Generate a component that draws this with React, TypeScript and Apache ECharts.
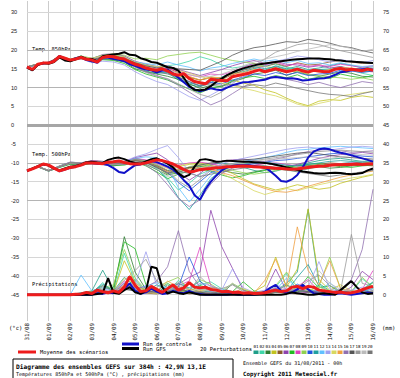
import React, { useEffect, useRef } from "react";
import * as echarts from "echarts";

// ---------- axis categories / ticks ----------
const DATES = ["31/08","01/09","02/09","03/09","04/09","05/09","06/09","07/09","08/09","09/09","10/09","11/09","12/09","13/09","14/09","15/09","16/09"];
const LEFT_TICKS = [30,25,20,15,10,5,0,-5,-10,-15,-20,-25,-30,-35,-40,-45];
const RIGHT_TICKS = [75,70,65,60,55,50,45,40,35,30,25,20,15,10,5,0];
const STRONG_GRID = [20,10,-10,-20];
const MAIN_STEP_H = 6;   // mean / control / GFS every 6h
const PERT_STEP_H = 12;  // perturbations every 12h

// ---------- 850 hPa (°C) ----------
const MEAN_850 = [
  15.5,14.8,16.2,16.5,16.5,17.0,18.3,17.8,17.3,17.6,18.0,17.5,17.3,
  16.8,18.0,18.3,18.2,17.8,17.6,16.8,16.2,15.8,15.2,14.8,14.6,15.0,
  14.4,13.6,13.3,13.7,12.4,11.6,11.3,11.0,12.2,12.0,11.9,11.8,12.9,
  13.2,13.5,13.8,14.3,14.7,14.2,14.6,15.0,14.6,14.2,14.5,14.9,14.4,
  14.1,14.6,14.4,14.2,14.3,14.9,15.1,14.7,14.9,14.7,14.5,14.9,14.6];
const GFS_850 = [
  15.3,14.6,16.0,16.6,16.3,16.8,18.0,17.2,17.0,17.5,18.2,17.6,17.6,
  17.0,18.3,18.6,18.8,19.0,19.4,18.7,18.6,17.8,17.4,16.8,16.6,16.0,
  15.4,15.2,14.5,12.6,10.5,9.4,9.3,9.5,10.4,11.5,12.4,13.3,14.0,
  14.6,15.1,15.5,15.9,16.2,16.4,16.6,16.8,17.0,17.2,17.4,17.5,17.6,
  17.7,17.7,17.7,17.6,17.5,17.3,17.2,17.0,16.9,16.8,16.7,16.6,16.5];
const CTRL_850 = [
  15.4,14.7,16.1,16.4,16.6,17.1,18.4,17.6,17.2,17.8,18.1,17.3,17.0,
  16.6,18.0,18.0,17.6,17.4,17.0,16.2,15.8,15.2,14.8,14.6,14.0,14.6,
  14.8,13.8,12.6,11.4,10.2,9.5,9.0,9.4,9.8,9.5,9.3,10.0,10.6,
  11.0,11.4,11.5,11.7,11.9,12.1,12.6,12.8,12.6,12.4,12.5,12.3,11.9,
  12.0,12.2,12.4,12.5,12.8,13.4,14.1,14.3,14.6,14.8,14.9,15.0,14.8];
const PERT_850 = [
  [15.5,16.0,16.8,18.0,17.5,18.4,17.0,18.2,17.6,17.0,15.6,14.4,13.8,14.0,12.0,10.8,10.2,11.4,12.6,13.8,14.2,15.1,14.6,15.8,15.0,15.6,14.8,15.2,15.8,16.4,15.9,15.2,15.5],
  [15.5,16.3,16.4,18.5,17.2,17.6,17.8,18.6,18.8,18.0,16.8,16.0,15.4,15.8,16.2,17.0,18.2,17.4,16.0,15.2,15.6,16.4,15.8,16.2,15.4,15.0,14.2,14.8,15.0,15.6,14.6,13.8,13.2],
  [15.5,16.1,16.6,18.2,17.0,17.8,16.8,17.6,17.4,16.8,15.0,14.2,13.6,13.0,12.2,11.0,9.8,10.6,10.2,11.6,12.4,13.6,14.0,14.6,13.2,14.2,13.4,13.0,13.6,14.2,13.8,13.0,12.8],
  [15.5,16.2,16.4,18.4,17.6,18.2,17.6,18.4,18.6,18.2,16.4,15.6,15.0,14.8,13.0,12.6,12.0,12.8,12.4,12.0,11.2,10.6,9.4,8.6,7.2,6.0,5.2,6.4,6.8,6.6,7.4,7.8,7.4],
  [15.5,16.3,16.7,18.2,17.4,18.1,17.5,18.0,18.6,17.8,16.6,15.4,14.8,15.2,14.0,12.8,12.0,12.6,12.2,13.4,14.6,15.4,15.6,16.4,15.6,16.6,16.0,16.2,16.8,17.2,16.8,16.4,16.6],
  [15.5,16.2,16.5,18.3,17.2,17.9,17.6,18.8,19.0,18.4,17.0,16.2,15.6,15.8,14.8,14.0,13.2,14.0,14.8,15.8,16.6,17.2,16.4,17.0,16.2,16.0,15.4,15.8,15.2,15.6,15.0,14.4,14.2],
  [15.5,16.1,16.4,18.4,17.3,18.0,16.8,17.4,17.2,16.4,14.8,13.6,12.8,12.0,10.8,9.6,8.6,9.8,10.4,11.8,12.6,13.0,12.4,13.2,12.6,13.4,12.2,12.8,12.4,13.6,13.0,12.6,13.2],
  [15.5,16.2,16.6,18.2,17.4,18.2,17.8,18.4,18.0,17.6,16.4,15.6,15.2,15.0,14.4,13.4,12.8,13.6,13.4,14.2,15.4,16.4,16.0,16.8,15.8,16.4,15.6,16.0,15.6,16.2,15.8,15.4,15.8],
  [15.5,16.3,16.5,18.5,17.4,18.4,17.8,18.6,19.0,18.6,17.6,17.8,17.4,18.4,18.8,19.2,19.4,18.6,17.8,17.2,16.8,16.4,15.6,15.2,14.6,14.2,13.6,13.2,12.8,12.6,12.2,12.6,12.0],
  [15.5,16.1,16.6,18.2,17.1,17.8,17.0,17.6,17.8,17.4,15.8,14.8,14.4,14.2,12.8,11.6,10.4,11.4,11.0,12.0,12.8,13.6,13.2,14.0,13.4,14.0,13.2,13.6,13.8,14.6,14.4,14.0,14.4],
  [15.5,16.2,16.4,18.3,17.3,18.0,17.4,17.8,17.8,17.2,16.0,15.0,14.2,13.8,12.4,11.2,10.6,11.8,12.8,14.0,14.8,15.6,15.0,15.6,14.8,15.2,14.4,14.8,14.6,15.4,14.8,14.2,14.6],
  [15.5,16.2,16.6,18.2,17.3,18.0,17.2,18.0,18.4,18.0,16.8,16.4,16.0,16.8,16.0,15.4,14.4,15.2,15.6,16.4,17.0,17.6,17.0,17.4,16.6,17.2,16.4,16.6,16.0,16.6,16.0,15.6,15.8],
  [15.5,16.1,16.4,18.4,17.2,17.7,16.6,17.0,16.8,16.0,14.2,12.8,11.6,10.8,9.2,7.6,6.6,8.0,9.6,11.4,12.8,14.2,15.6,17.0,17.6,18.4,18.0,17.4,16.8,17.4,17.0,16.6,17.2],
  [15.5,16.2,16.5,18.3,17.4,18.1,17.7,18.5,18.6,18.0,16.8,16.0,15.6,15.6,14.6,13.8,13.0,12.2,11.2,10.6,9.8,9.2,8.4,7.8,6.8,5.6,5.0,5.8,6.4,7.8,8.2,8.6,9.0],
  [15.5,16.3,16.6,18.2,17.3,18.0,17.4,18.2,18.4,17.8,16.4,15.6,15.0,14.8,13.8,13.0,12.0,12.8,12.6,13.6,14.0,14.8,14.4,15.2,14.6,15.0,14.4,14.2,14.8,15.4,15.2,14.8,14.6],
  [15.5,16.2,16.5,18.3,17.2,17.8,17.2,17.8,18.0,17.2,15.6,14.2,13.2,12.2,10.6,8.8,7.0,5.4,6.6,8.4,10.2,11.6,12.4,13.0,12.2,11.6,10.8,11.4,10.6,10.0,10.8,11.6,11.2],
  [15.5,16.2,16.5,18.4,17.3,18.1,17.4,18.2,18.4,17.8,16.6,15.8,15.2,15.6,15.0,14.8,14.6,15.8,17.0,18.6,19.8,20.6,21.0,21.6,22.2,22.0,22.8,22.4,21.8,21.0,20.6,19.8,19.2],
  [15.5,16.2,16.4,18.2,17.4,18.0,17.2,17.8,17.6,17.0,15.4,14.0,13.0,12.4,11.0,9.6,8.2,7.4,8.8,11.0,13.4,15.8,17.6,19.4,20.4,21.4,21.8,21.4,20.6,19.8,19.2,18.6,18.0],
  [15.5,16.2,16.5,18.3,17.3,17.9,17.6,18.4,18.2,17.8,16.2,15.4,15.0,14.6,13.8,13.4,12.8,13.0,13.6,14.6,15.8,16.8,17.6,18.2,18.8,19.6,20.2,20.8,21.4,21.0,20.4,19.6,20.2],
  [15.5,16.2,16.6,18.3,17.2,18.0,17.4,18.0,18.4,17.4,16.0,15.0,14.2,13.6,12.8,11.6,10.4,11.0,10.6,10.8,10.2,10.8,10.4,11.2,10.6,9.8,9.2,8.6,8.2,8.0,7.6,8.4,9.0]];

// ---------- 500 hPa (°C) ----------
const MEAN_500 = [
  -12.1,-11.6,-11.0,-10.3,-10.6,-11.4,-12.1,-11.7,-11.2,-11.0,-10.6,-10.0,-10.0,
  -10.1,-10.2,-9.8,-9.7,-9.5,-9.9,-10.2,-10.3,-10.3,-10.0,-9.6,-9.2,-9.4,
  -9.8,-10.3,-11.0,-11.8,-12.4,-12.2,-11.8,-11.6,-11.5,-11.3,-11.2,-11.0,-11.0,
  -10.9,-10.8,-10.9,-11.0,-11.1,-11.2,-11.3,-11.4,-11.5,-11.6,-11.7,-11.6,-11.4,
  -11.2,-11.0,-10.9,-10.8,-10.6,-10.5,-10.5,-10.4,-10.4,-10.3,-10.4,-10.3,-10.3];
const GFS_500 = [
  -12.1,-11.5,-10.9,-10.3,-10.7,-11.5,-12.0,-11.5,-11.0,-10.8,-10.4,-9.8,-9.7,
  -9.9,-10.0,-9.2,-8.8,-8.6,-9.0,-9.6,-10.0,-10.2,-9.6,-9.0,-8.8,-9.4,
  -10.2,-11.2,-12.8,-13.8,-13.2,-11.0,-9.2,-9.0,-9.3,-9.7,-9.6,-9.4,-9.5,
  -9.6,-9.7,-9.7,-9.8,-9.9,-10.0,-10.2,-10.5,-10.8,-11.2,-11.5,-11.9,-12.3,
  -12.5,-12.7,-12.8,-12.8,-12.7,-12.6,-12.7,-12.9,-13.0,-12.9,-12.7,-12.0,-11.5];
const CTRL_500 = [
  -12.1,-11.6,-11.0,-10.4,-10.6,-11.4,-12.2,-11.8,-11.3,-11.0,-10.6,-10.0,-10.1,
  -10.2,-10.3,-10.6,-11.4,-12.4,-12.7,-11.6,-10.6,-10.4,-10.0,-9.6,-9.8,-10.4,
  -11.0,-11.8,-13.0,-14.6,-16.0,-18.6,-19.8,-17.0,-15.0,-13.4,-12.0,-11.2,-10.8,
  -10.6,-10.6,-10.6,-10.8,-11.0,-11.2,-12.2,-13.4,-14.8,-15.0,-14.4,-13.2,-11.2,
  -8.6,-7.0,-6.4,-6.2,-6.4,-6.9,-7.3,-7.6,-8.0,-8.4,-8.8,-9.2,-9.7];
const PERT_500 = [
  [-12.1,-11.0,-12.0,-10.8,-9.8,-10.0,-9.4,-9.6,-10.0,-9.6,-8.8,-9.4,-10.6,-12.0,-12.8,-12.2,-11.0,-10.4,-10.0,-10.6,-11.2,-12.0,-12.6,-12.2,-11.4,-10.6,-10.0,-9.4,-9.0,-8.8,-9.2,-9.6,-9.8],
  [-12.1,-11.1,-12.2,-11.2,-10.2,-10.4,-9.8,-10.2,-10.6,-10.4,-9.6,-10.2,-11.6,-14.0,-17.2,-15.4,-13.0,-11.8,-11.0,-10.4,-10.0,-10.2,-10.8,-11.4,-12.0,-12.2,-11.6,-11.0,-10.6,-10.2,-9.8,-9.6,-9.4],
  [-12.1,-11.0,-12.1,-11.1,-10.2,-10.6,-10.2,-10.4,-10.8,-10.4,-9.6,-10.4,-11.8,-13.2,-12.6,-11.4,-10.8,-11.2,-12.0,-12.6,-13.0,-12.4,-11.8,-11.2,-10.8,-10.6,-10.8,-11.0,-11.4,-11.2,-10.8,-10.6,-10.4],
  [-12.1,-11.0,-12.0,-11.0,-9.9,-10.0,-9.6,-9.8,-10.2,-9.8,-9.0,-9.6,-10.8,-12.0,-11.0,-10.4,-10.0,-10.6,-11.6,-12.8,-14.2,-15.6,-16.4,-17.2,-16.6,-15.8,-16.4,-17.0,-16.6,-15.4,-14.6,-13.8,-13.2],
  [-12.1,-10.9,-12.0,-10.9,-10.0,-10.2,-9.6,-9.8,-10.4,-10.2,-9.4,-9.8,-10.8,-12.2,-11.6,-11.2,-11.6,-11.0,-10.6,-10.4,-10.6,-11.0,-11.4,-11.8,-11.6,-11.2,-10.8,-10.4,-10.0,-10.2,-10.4,-10.6,-10.8],
  [-12.1,-11.0,-12.1,-10.9,-9.9,-10.1,-9.5,-9.7,-10.2,-9.8,-8.6,-8.0,-7.4,-9.2,-12.4,-14.6,-12.8,-10.6,-9.6,-9.2,-9.0,-9.4,-10.0,-10.6,-11.0,-10.4,-9.6,-8.8,-8.2,-7.8,-7.6,-7.2,-7.6],
  [-12.1,-11.0,-12.2,-11.2,-10.4,-10.6,-10.0,-10.2,-10.6,-10.6,-9.8,-10.8,-12.4,-14.2,-13.0,-12.2,-11.6,-12.2,-13.2,-14.0,-13.4,-12.6,-12.0,-11.4,-11.0,-10.8,-10.4,-10.2,-10.6,-11.0,-11.2,-10.8,-10.6],
  [-12.1,-11.0,-12.0,-10.9,-9.8,-10.0,-9.4,-9.6,-10.0,-9.6,-8.8,-9.2,-10.2,-11.4,-10.6,-10.0,-9.8,-10.2,-10.8,-11.2,-11.0,-10.6,-10.2,-10.0,-10.4,-10.8,-11.2,-11.0,-10.6,-10.2,-10.0,-9.8,-10.0],
  [-12.1,-11.1,-12.1,-11.0,-10.1,-10.3,-9.8,-10.0,-10.4,-10.0,-9.2,-9.8,-11.2,-13.0,-12.4,-11.0,-10.4,-10.8,-11.4,-12.0,-12.6,-13.0,-12.6,-12.0,-11.6,-11.2,-11.0,-10.8,-10.6,-10.4,-10.2,-10.0,-9.8],
  [-12.1,-11.0,-12.1,-11.0,-10.0,-10.2,-9.7,-9.9,-10.3,-10.0,-9.2,-9.8,-11.0,-12.6,-15.2,-17.4,-15.0,-12.6,-11.6,-11.0,-10.6,-10.2,-9.8,-9.4,-9.2,-8.8,-8.4,-8.0,-7.6,-7.4,-7.8,-8.2,-8.4],
  [-12.1,-11.0,-12.1,-11.0,-10.1,-10.3,-9.8,-10.0,-10.3,-9.8,-9.0,-9.6,-11.4,-14.6,-19.2,-22.4,-18.6,-14.2,-12.0,-11.0,-10.4,-10.0,-9.8,-10.2,-10.6,-10.8,-10.4,-10.0,-9.6,-9.4,-9.6,-10.0,-10.2],
  [-12.1,-11.0,-12.0,-10.9,-9.9,-10.1,-9.6,-9.8,-10.2,-9.8,-8.8,-8.4,-8.6,-10.8,-16.6,-20.4,-17.0,-13.4,-11.2,-10.2,-9.6,-9.2,-8.6,-8.0,-7.2,-6.6,-6.4,-6.0,-5.8,-5.6,-5.8,-6.0,-6.2],
  [-12.1,-11.0,-12.1,-11.0,-10.0,-10.2,-9.6,-9.8,-10.2,-9.6,-8.4,-7.6,-6.4,-5.4,-8.6,-12.4,-13.8,-11.8,-10.2,-9.4,-8.8,-8.2,-7.6,-7.0,-6.4,-6.0,-5.8,-6.2,-6.6,-6.2,-5.8,-5.6,-5.8],
  [-12.1,-11.0,-12.1,-11.0,-10.0,-10.2,-9.8,-10.0,-10.4,-10.0,-9.2,-9.6,-10.4,-11.4,-10.8,-10.2,-10.6,-11.4,-12.8,-14.2,-15.8,-17.4,-18.4,-17.6,-16.8,-17.4,-16.6,-15.8,-15.2,-14.6,-14.0,-13.6,-13.0],
  [-12.1,-11.0,-12.1,-11.0,-10.0,-10.2,-9.7,-9.9,-10.3,-10.0,-9.2,-9.8,-11.0,-12.4,-11.8,-11.6,-11.2,-11.8,-12.6,-13.4,-14.6,-15.8,-16.8,-17.6,-17.8,-17.2,-16.2,-15.4,-14.6,-13.8,-13.2,-12.6,-12.2],
  [-12.1,-11.0,-12.2,-11.1,-10.2,-10.4,-9.9,-10.1,-10.5,-10.4,-9.8,-10.6,-12.6,-15.8,-19.4,-21.6,-19.8,-15.6,-12.8,-11.4,-10.6,-10.0,-9.6,-9.0,-8.4,-7.6,-7.0,-6.6,-6.4,-6.8,-7.2,-7.0,-6.8],
  [-12.1,-11.0,-12.1,-11.0,-10.0,-10.2,-9.7,-9.9,-10.3,-10.0,-9.4,-10.0,-11.2,-12.8,-12.0,-11.2,-10.6,-10.0,-9.6,-9.4,-9.2,-9.0,-8.6,-8.2,-7.8,-7.4,-7.2,-7.6,-8.0,-8.4,-8.6,-8.8,-9.0],
  [-12.1,-11.0,-12.0,-10.9,-9.9,-10.0,-9.5,-9.7,-10.1,-9.8,-9.0,-9.4,-10.4,-12.0,-14.8,-16.6,-14.4,-12.0,-10.8,-10.2,-9.8,-9.4,-9.0,-8.6,-8.2,-7.8,-7.4,-7.0,-6.8,-6.6,-6.8,-7.0,-7.2],
  [-12.1,-11.0,-12.1,-11.0,-10.1,-10.3,-9.8,-10.0,-10.4,-10.2,-9.6,-10.2,-11.6,-13.6,-13.0,-12.0,-11.4,-11.0,-10.8,-10.4,-10.0,-9.6,-9.2,-9.0,-8.8,-8.6,-8.4,-8.6,-8.8,-8.4,-8.0,-7.8,-8.0],
  [-12.1,-11.0,-12.1,-11.0,-10.0,-10.2,-9.7,-9.9,-10.3,-10.0,-9.2,-9.8,-11.0,-12.6,-12.2,-12.8,-13.6,-13.0,-12.4,-11.8,-11.4,-11.0,-10.8,-11.2,-11.8,-12.4,-12.8,-13.2,-13.6,-13.2,-12.8,-12.4,-12.0]];

// ---------- precipitation (mm, right axis) ----------
const MEAN_PR = [
  0,0,0,0,0,0,0,0,0,0.1,0.2,0.6,0.3,
  1.2,0.8,0.5,1.0,0.6,2.0,4.8,2.5,0.8,1.0,2.2,1.4,0.6,
  1.6,2.6,1.2,1.8,3.2,2.0,1.8,2.0,1.4,1.2,0.8,0.9,0.6,
  0.7,0.4,0.5,0.3,0.4,0.5,0.9,1.2,0.8,1.0,2.0,2.2,1.6,
  2.2,2.0,1.2,1.0,0.8,0.6,0.7,0.4,0.5,0.8,1.3,1.8,2.2];
const GFS_PR = [
  0,0,0,0,0,0,0,0,0,0,0,0,0,
  0.2,0.4,4.4,0.5,0.2,1.2,2.0,0.6,0.2,1.0,7.4,7.0,2.0,
  0.3,0.8,0.4,0.2,0.6,0.3,0,0,0,0,0,0,0,
  0,0,0,0,0,0,0,0,0,0.2,0.6,0.4,0.2,
  0,0,0.2,0.4,0.2,0,1.2,2.4,3.6,2.0,0.6,0.2,0.4];
const CTRL_PR = [
  0,0,0,0,0,0,0,0,0,0,0,0,0,
  0.4,0.2,0.6,0.4,0.8,1.6,3.0,1.0,0.2,0.6,1.6,0.8,0.2,
  0.4,1.0,0.6,0.4,1.0,0.4,0.2,0,0,0,0,0,0.2,
  0,0,0,0,0.2,0.8,1.8,2.6,1.0,0.4,0.6,1.4,2.6,
  1.4,0.4,0.2,0,0,0.2,0.4,0.2,0,0.2,0.4,0.6,0.4];
const PERT_PR = [
  [0,0,0,0,0,0.5,1.0,6.5,1.2,2.0,4.0,1.0,0.4,2.6,1.0,0.6,0.4,1.2,0.8,0.4,0.2,0.6,0.2,1.0,3.0,6.0,22.6,3.0,1.0,0.6,0.4,1.2,0.6],
  [0,0,0,0,0,0.2,0.4,3.2,0.6,11.0,3.4,0.8,1.2,0.6,3.8,1.4,2.6,3.4,1.6,0.8,0.4,0.2,0.4,2.0,5.6,1.0,0.8,2.6,0.8,0.4,0.6,4.2,2.0],
  [0,0,0,0,0,0,0.8,2.4,1.0,15.4,6.0,1.4,0.8,1.6,2.2,0.6,1.4,0.8,0.4,2.8,1.2,0.4,0.2,0.6,1.0,0.8,1.4,0.6,0.4,1.0,0.6,0.8,1.6],
  [0,0,0,0,0,0,0.4,1.2,0.6,9.0,3.2,1.0,0.4,1.8,1.2,0.4,0.8,1.6,0.6,0.2,0.4,0.8,2.4,10.0,2.0,6.8,22.8,4.0,1.2,2.6,1.0,0.4,0.8],
  [0,0,0,0,0,0,0.2,0.8,0.4,2.0,1.0,0.4,0.2,0.6,0.8,0.2,0.4,0.2,0,0.2,0.4,0.2,0,0.6,0.4,0.2,0.6,0.4,0.2,0.6,1.0,0.4,0.2],
  [0,0,0,0,0,0,0.2,1.0,0.6,2.4,1.6,0.8,0.6,1.4,2.8,4.6,6.0,22.4,12.8,7.0,1.2,0.4,0.8,6.8,1.0,0.4,0.6,1.2,0.8,0.4,2.0,6.2,4.0],
  [0,0,0,0,0,0.2,0.6,1.4,2.0,14.0,12.2,2.6,1.0,3.0,1.4,0.8,2.4,1.6,0.6,0.8,3.4,1.0,0.4,0.8,2.6,1.2,4.8,1.8,2.4,0.6,0.4,1.0,3.2],
  [0,0,0,0,0,0,0.4,1.0,0.8,3.6,2.0,0.6,1.2,0.8,2.4,3.6,12.6,2.4,1.0,0.6,0.4,0.2,0.6,1.8,1.2,2.2,4.0,1.0,0.6,0.8,0.4,1.4,6.4],
  [0,0,0,0,0,0,1.0,1.8,2.6,12.0,4.4,1.2,2.0,3.4,4.6,1.2,4.0,2.8,1.0,3.0,1.4,0.6,0.8,2.4,6.0,2.0,1.0,2.2,10.0,1.6,0.8,4.6,2.0],
  [0,0,0,0,0,0,0.2,0.8,0.6,1.8,1.0,2.4,0.8,1.0,2.0,10.0,3.6,1.0,0.4,0.2,0.4,0.6,0.2,1.6,0.8,2.8,1.2,0.6,0.4,0.8,0.6,1.0,0.8],
  [0,0,0,0,0,0.4,0.6,2.8,1.0,4.6,2.2,1.0,2.6,1.4,3.0,1.8,3.6,1.2,0.8,0.6,0.4,0.2,0.6,1.0,0.8,4.6,8.0,2.2,0.6,0.4,0.6,1.4,3.4],
  [0,0,0,0,0,5.2,1.0,2.0,0.8,3.0,1.6,2.2,3.2,1.6,1.0,2.8,1.4,0.8,1.6,0.6,0.4,0.2,0.4,1.2,4.4,1.6,1.2,0.8,3.2,0.6,0.4,0.8,1.6],
  [0,0,0,0,0,0,0.4,1.6,0.8,3.2,2.6,11.4,2.4,1.0,2.0,1.4,3.0,2.4,1.2,6.8,1.8,0.6,1.2,2.6,1.4,1.0,2.0,8.8,1.6,0.8,1.2,2.0,1.0],
  [0,0,0,0,0,0,0.2,0.6,0.4,4.4,2.8,0.6,0.4,1.0,1.4,0.4,1.0,1.4,0.2,0.4,1.6,0.4,0.2,1.4,0.6,2.2,1.0,2.0,1.0,0.4,0.6,0.4,0.8],
  [0,0,0,0,0,0,0.2,1.0,0.6,2.6,2.0,1.2,0.8,3.6,2.0,1.4,1.2,2.0,1.0,0.6,0.2,0.4,3.8,9.4,2.0,18.0,6.4,2.6,9.0,1.6,0.8,1.4,2.4],
  [0,0,0,0,0,0,0.4,1.2,0.6,3.0,1.8,2.0,3.6,7.4,17.0,6.2,2.0,1.0,0.8,0.4,0.6,0.4,0.2,0.8,1.2,1.4,0.8,1.0,0.6,1.4,4.0,12.0,28.0],
  [0,0,0,0,0,0,0.2,0.6,0.4,1.4,1.0,0.6,1.0,0.8,1.2,0.8,0.6,0.4,0.2,0.4,0.2,0.6,0.4,0.8,0.6,1.0,0.8,0.6,0.4,0.8,0.6,0.4,0.6],
  [0,0,0,0,0,0,0.4,2.2,1.0,3.8,6.4,9.4,3.6,2.0,3.2,1.0,4.8,2.0,1.6,2.6,0.8,0.4,0.6,1.2,2.4,1.6,3.6,5.2,2.4,1.0,16.0,3.0,2.2],
  [0,0,0,0,0,0,0.2,1.4,0.6,2.2,3.2,1.4,0.8,1.4,2.6,1.0,1.4,1.0,0.6,3.0,1.0,0.4,0.2,0.8,1.6,2.4,1.2,6.4,3.0,1.4,0.8,0.6,1.0],
  [0,0,0,0,0,0,0.2,0.8,0.4,1.6,1.2,0.8,0.6,1.0,1.6,0.6,0.8,0.6,0.4,0.2,0.4,0.2,0.4,0.6,0.8,1.2,0.6,0.4,0.6,0.8,0.4,0.6,1.0]];

const PERT_NAMES = ["01","02","03","04","05","06","07","08","09","10","11","12","13","14","15","16","17","18","19","20"];
const PERT_COLORS = ["#1f9e89","#3fd6a8","#2e7d32","#c2c21e","#8b5a2b","#8e44ad","#22bb22","#e040c0","#90d050","#2255dd",
  "#20a0a0","#60c0ff","#a0a0f0","#d8d860","#f0a040","#9070b0","#555555","#999999","#bbbbbb","#777777"];

const MONO = '"DejaVu Sans Mono", monospace';

function pairs(vals: number[], step: number) {
  return vals.map((v, k) => [k * step, v]);
}

function line(name: string, vals: number[], step: number, color: string, width: number, axis: number, z: number) {
  return {
    type: "line", name, data: pairs(vals, step), yAxisIndex: axis, symbol: "none", silent: true,
    lineStyle: { color, width }, z, animation: false, emphasis: { disabled: true },
  };
}

function txt(text: string, x: number, y: number, font: string, extra: any = {}) {
  return { type: "text", x, y, silent: true, style: { text, font, fill: "#000000", verticalAlign: "middle", textAlign: "left", ...extra } };
}

export default function App() {
  const ref = useRef<HTMLDivElement>(null);
  useEffect(() => {
    document.body.style.margin = "0";
    const chart = echarts.init(ref.current!, null, { renderer: "svg" });

    const series: any[] = [];
    series.push({
      type: "line", data: [], yAxisIndex: 0, silent: true, z: 1,
      markLine: {
        silent: true, symbol: ["none", "none"], label: { show: false }, animation: false, z: 1,
        data: LEFT_TICKS.map((v) => ({
          yAxis: v,
          lineStyle: {
            type: "solid",
            width: v === 0 ? 3 : 1,
            color: v === 0 ? "#a6a6a6" : STRONG_GRID.includes(v) ? "#b4b4b4" : "#d6d6d6",
          },
        })),
      },
    });
    PERT_850.forEach((vals, k) => series.push(line("p850_" + PERT_NAMES[k], vals, PERT_STEP_H, PERT_COLORS[k], 0.8, 0, 3)));
    PERT_500.forEach((vals, k) => series.push(line("p500_" + PERT_NAMES[k], vals, PERT_STEP_H, PERT_COLORS[k], 0.8, 0, 3)));
    PERT_PR.forEach((vals, k) => series.push(line("ppr_" + PERT_NAMES[k], vals, PERT_STEP_H, PERT_COLORS[k], 0.8, 1, 3)));
    series.push(line("ctrl850", CTRL_850, MAIN_STEP_H, "#1010c8", 2, 0, 4));
    series.push(line("ctrl500", CTRL_500, MAIN_STEP_H, "#1010c8", 2, 0, 4));
    series.push(line("ctrlpr", CTRL_PR, MAIN_STEP_H, "#1010c8", 2, 1, 4));
    series.push(line("gfs850", GFS_850, MAIN_STEP_H, "#000000", 2, 0, 5));
    series.push(line("gfs500", GFS_500, MAIN_STEP_H, "#000000", 2, 0, 5));
    series.push(line("gfspr", GFS_PR, MAIN_STEP_H, "#000000", 2, 1, 5));
    series.push(line("mean850", MEAN_850, MAIN_STEP_H, "#ee1c1c", 3, 0, 6));
    series.push(line("mean500", MEAN_500, MAIN_STEP_H, "#ee1c1c", 3, 0, 6));
    series.push(line("meanpr", MEAN_PR, MAIN_STEP_H, "#ee1c1c", 3, 1, 6));

    const graphic: any[] = [
      txt("Temp. 850hPa", 32, 49, "5.4px " + MONO),
      txt("Temp. 500hPa", 32, 154, "5.4px " + MONO),
      txt("Précipitations", 32, 284, "5.4px " + MONO),
      txt("(°c)", 9, 328, "5.6px " + MONO),
      txt("(mm)", 382, 328, "5.6px " + MONO),
      { type: "line", silent: true, shape: { x1: 18, y1: 352, x2: 36, y2: 352 }, style: { stroke: "#ee1c1c", lineWidth: 3 } },
      txt("Moyenne des scénarios", 40, 352, "5.4px " + MONO),
      { type: "line", silent: true, shape: { x1: 122, y1: 344, x2: 139, y2: 344 }, style: { stroke: "#1010c8", lineWidth: 3 } },
      { type: "line", silent: true, shape: { x1: 122, y1: 348.5, x2: 139, y2: 348.5 }, style: { stroke: "#000", lineWidth: 3 } },
      txt("Run de controle", 143, 344, "5.4px " + MONO),
      txt("Run GFS", 143, 349, "5.4px " + MONO),
      txt("20 Perturbations", 200, 349, "5.4px " + MONO),
      { type: "rect", silent: true, shape: { x: 13, y: 359, width: 220, height: 24 }, style: { fill: "#fff", stroke: "#000", lineWidth: 1 } },
      txt("Diagramme des ensembles GEFS sur 384h : 42,9N 13,1E", 16, 366, "bold 6.2px " + MONO),
      txt("Températures 850hPa et 500hPa (°C) , précipitations (mm)", 16, 374, "5px " + MONO),
      txt("Ensemble GEFS du 31/08/2011 - 00h", 243, 363, "5px " + MONO),
      txt("Copyright 2011 Meteociel.fr", 243, 374, "bold 5.8px " + MONO),
    ];
    PERT_NAMES.forEach((nm, k) => {
      const bx = 253.5 + k * 6;
      graphic.push({ type: "rect", silent: true, shape: { x: bx, y: 350.5, width: 5, height: 3.5 }, style: { fill: PERT_COLORS[k] } });
      graphic.push(txt(nm, bx + 2.5, 346.5, "4.2px " + MONO, { textAlign: "center" }));
    });

    const option: any = {
      animation: false,
      backgroundColor: "#ffffff",
      grid: { left: 27, right: 27, top: 1, bottom: 57, containLabel: false },
      xAxis: {
        type: "value", min: 0, max: 384, interval: 24,
        axisLine: { show: false }, axisTick: { show: false },
        splitLine: { show: true, lineStyle: { color: "#cccccc", width: 1 } },
        axisLabel: {
          rotate: 90, margin: 2, fontSize: 5.8, fontFamily: MONO, color: "#111111",
          formatter: (v: number) => DATES[Math.round(v / 24)] ?? "",
        },
      },
      yAxis: [
        {
          type: "value", min: -52, max: 33, position: "left",
          axisLine: { show: false }, axisTick: { show: false }, splitLine: { show: false },
          axisLabel: { customValues: LEFT_TICKS, align: "left", margin: 16, fontSize: 5.6, fontFamily: '"Liberation Sans", Arial', color: "#222222" },
        },
        {
          type: "value", min: -7, max: 78, position: "right",
          axisLine: { show: false }, axisTick: { show: false }, splitLine: { show: false },
          axisLabel: { customValues: RIGHT_TICKS, align: "left", margin: 10, fontSize: 5.6, fontFamily: '"Liberation Sans", Arial', color: "#222222" },
        },
      ],
      series,
      graphic,
    };
    chart.setOption(option);
    return () => chart.dispose();
  }, []);
  return <div ref={ref} style={{ width: 400, height: 378 }} />;
}
